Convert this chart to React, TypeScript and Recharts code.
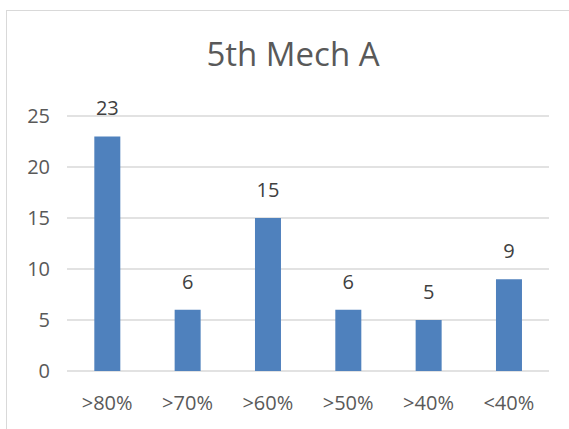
import React from "react";
import { BarChart, Bar, XAxis, YAxis, CartesianGrid, LabelList } from "recharts";

const categories = [">80%", ">70%", ">60%", ">50%", ">40%", "<40%"];
const counts = [23, 6, 15, 6, 5, 9];
const yTicks = [0, 5, 10, 15, 20, 25];

const data = categories.map((name, i) => ({ name, count: counts[i] }));

const font = "'Open Sans', sans-serif";

const App: React.FC = () => {
  return (
    <div
      style={{
        position: "absolute",
        left: 0,
        top: 0,
        width: "569px",
        height: "429px",
        overflow: "hidden",
        background: "#FFFFFF",
        fontFamily: font,
      }}
    >
      {/* chart frame, cut off on the right and bottom */}
      <div
        style={{
          position: "absolute",
          left: "6px",
          top: "10px",
          width: "620px",
          height: "500px",
          border: "1.5px solid #D9D9D9",
        }}
      />

      {/* Title */}
      <div
        style={{
          position: "absolute",
          left: 0,
          top: "37px",
          width: "586px",
          textAlign: "center",
          fontSize: "33px",
          lineHeight: "33px",
          color: "#595959",
        }}
      >
        5th Mech A
      </div>

      <div style={{ position: "absolute", left: 0, top: 0 }}>
        <BarChart
          width={569}
          height={429}
          data={data}
          margin={{ top: 116, right: 20, bottom: 0, left: 0 }}
          barCategoryGap="34%"
        >
          <CartesianGrid vertical={false} stroke="#D9D9D9" strokeWidth={1.3} />
          <XAxis
            dataKey="name"
            height={58}
            axisLine={false}
            tickLine={false}
            tickSize={0}
            tickMargin={25}
            tick={{ fill: "#595959", fontSize: 20, fontFamily: font }}
          />
          <YAxis
            width={67}
            domain={[0, 25]}
            ticks={yTicks}
            axisLine={false}
            tickLine={false}
            tickSize={0}
            tickMargin={17}
            tick={{ fill: "#595959", fontSize: 20, fontFamily: font }}
          />
          <Bar dataKey="count" fill="#4F81BD" isAnimationActive={false}>
            <LabelList
              dataKey="count"
              position="top"
              offset={21}
              fill="#404040"
              fontSize={20}
              fontFamily={font}
            />
          </Bar>
        </BarChart>
      </div>
    </div>
  );
};

export default App;
